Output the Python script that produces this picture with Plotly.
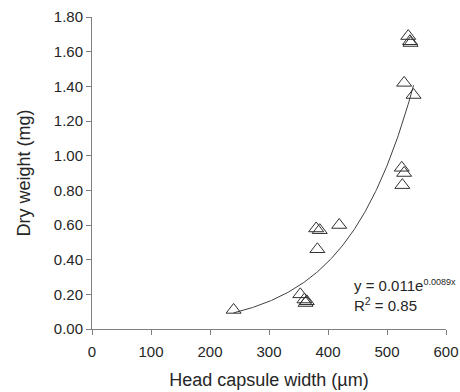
import numpy as np
import plotly.graph_objects as go

# Data
head_width = [240, 353, 360, 362, 364, 380, 386, 382, 419, 536, 539, 540, 529, 545, 525, 529, 526]
dry_weight = [0.11, 0.20, 0.17, 0.15, 0.16, 0.58, 0.57, 0.46, 0.60, 1.69, 1.66, 1.65, 1.42, 1.35, 0.93, 0.90, 0.83]

# Trendline equation shown on chart: y = a * exp(b x)
fit_a = 0.011
fit_b = 0.0089
fit_x_range = [240, 545]

x_ticks = [0, 100, 200, 300, 400, 500, 600]
y_ticks = [0.0, 0.2, 0.4, 0.6, 0.8, 1.0, 1.2, 1.4, 1.6, 1.8]

xs = np.linspace(fit_x_range[0], fit_x_range[1], 200)
ys = fit_a * np.exp(fit_b * xs)

FONT = "Liberation Sans, Arial"
TXT = "#262626"

fig = go.Figure()
fig.add_trace(go.Scatter(
    x=xs, y=ys, mode="lines",
    line=dict(color="#404040", width=1),
    showlegend=False, hoverinfo="skip"))
fig.add_trace(go.Scatter(
    x=head_width, y=dry_weight, mode="markers",
    marker=dict(symbol="triangle-up-open", size=13, color="#303030", line=dict(width=1, color="#303030")),
    showlegend=False))

fig.add_annotation(x=0.735, y=0.141, xref="paper", yref="paper",
                   text="y = 0.011e<sup><span style='font-size:9px'>0.0089x</span></sup>", showarrow=False,
                   xanchor="left", yanchor="middle",
                   font=dict(family=FONT, size=15, color=TXT))
fig.add_annotation(x=0.735, y=0.08, xref="paper", yref="paper",
                   text="R<sup>2</sup> = 0.85", showarrow=False,
                   xanchor="left", yanchor="middle",
                   font=dict(family=FONT, size=15, color=TXT))

axis_common = dict(
    showline=True, linecolor="#808080", linewidth=1,
    ticks="outside", ticklen=5, tickcolor="#808080",
    showgrid=False, zeroline=False, automargin=False,
    tickfont=dict(family=FONT, size=15, color=TXT),
)

fig.update_xaxes(range=[0, 600], tickvals=x_ticks, ticklabelstandoff=4,
                 title=dict(text="Head capsule width (µm)", standoff=14,
                            font=dict(family=FONT, size=18, color=TXT)),
                 **axis_common)
fig.update_yaxes(range=[0, 1.8], tickvals=y_ticks, tickformat=".2f",
                 title=dict(text="Dry weight (mg)", standoff=18,
                            font=dict(family=FONT, size=18, color=TXT)),
                 **axis_common)

fig.update_layout(
    width=460, height=392,
    margin=dict(l=92, r=14, t=17, b=63),
    paper_bgcolor="white", plot_bgcolor="white",
)

fig.write_html("out.html")
